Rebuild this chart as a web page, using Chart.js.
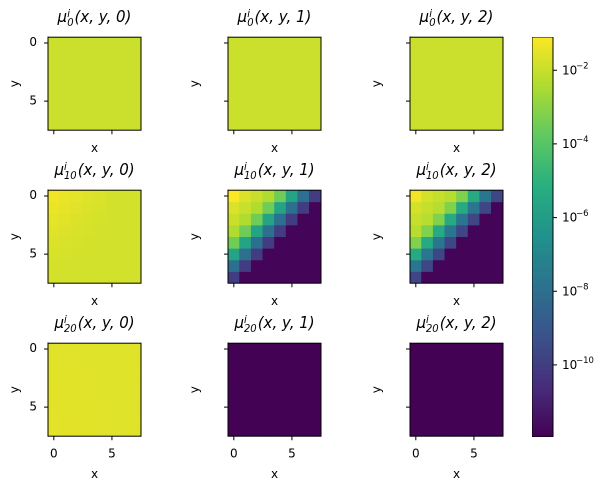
<!DOCTYPE html>
<html><head><meta charset="utf-8">
<script src="https://cdn.jsdelivr.net/npm/chart.js@4"></script>
<style>
body{margin:0;background:#fff;font-family:"DejaVu Sans",sans-serif;}
#root{position:relative;width:610px;height:491px;overflow:hidden;}
.p{position:absolute;}
.p canvas{display:block;}
.t{position:absolute;font-family:"DejaVu Sans",sans-serif;font-style:italic;font-size:15px;text-align:center;width:140px;white-space:nowrap;}
.ss{display:inline-block;vertical-align:middle;line-height:9px;font-size:10px;text-align:left;margin-right:1px;}
</style></head><body><div id="root"></div>
<script>
const cols=[0,1,2,3,4,5,6,7];
const VMIN=1.1e-12, VMAX=0.08;
const mu0=[[0.011,0.011,0.011,0.011,0.011,0.011,0.011,0.011],[0.011,0.011,0.011,0.011,0.011,0.011,0.011,0.011],[0.011,0.011,0.011,0.011,0.011,0.011,0.011,0.011],[0.011,0.011,0.011,0.011,0.011,0.011,0.011,0.011],[0.011,0.011,0.011,0.011,0.011,0.011,0.011,0.011],[0.011,0.011,0.011,0.011,0.011,0.011,0.011,0.011],[0.011,0.011,0.011,0.011,0.011,0.011,0.011,0.011],[0.011,0.011,0.011,0.011,0.011,0.011,0.011,0.011]];
const mu10_0=[[0.05,0.035,0.03,0.024,0.02,0.016,0.015,0.015],[0.04,0.032,0.026,0.021,0.018,0.016,0.015,0.015],[0.032,0.027,0.022,0.019,0.017,0.015,0.015,0.015],[0.026,0.022,0.019,0.017,0.016,0.015,0.015,0.015],[0.021,0.019,0.017,0.016,0.015,0.015,0.015,0.015],[0.018,0.017,0.016,0.015,0.015,0.015,0.015,0.015],[0.016,0.016,0.015,0.015,0.015,0.015,0.015,0.015],[0.016,0.015,0.015,0.015,0.015,0.015,0.015,0.015]];
const mu10_1=[[0.07,0.02,0.01,0.004,3e-4,2e-6,1e-8,1e-10],[0.02,0.01,0.004,3e-4,2e-6,1e-8,1e-10,1.5e-12],[0.01,0.004,3e-4,2e-6,1e-8,1e-10,1.5e-12,1.5e-12],[0.004,3e-4,2e-6,1e-8,1e-10,1.5e-12,1.5e-12,1.5e-12],[3e-4,2e-6,1e-8,1e-10,1.5e-12,1.5e-12,1.5e-12,1.5e-12],[2e-6,1e-8,1e-10,1.5e-12,1.5e-12,1.5e-12,1.5e-12,1.5e-12],[1e-8,1e-10,1.5e-12,1.5e-12,1.5e-12,1.5e-12,1.5e-12,1.5e-12],[1e-10,1.5e-12,1.5e-12,1.5e-12,1.5e-12,1.5e-12,1.5e-12,1.5e-12]];
const mu10_2=[[0.05,0.016,0.009,0.005,6e-4,4e-6,2e-8,2e-10],[0.016,0.009,0.005,6e-4,4e-6,2e-8,2e-10,1.5e-12],[0.009,0.005,6e-4,4e-6,2e-8,2e-10,1.5e-12,1.5e-12],[0.005,6e-4,4e-6,2e-8,2e-10,1.5e-12,1.5e-12,1.5e-12],[6e-4,4e-6,2e-8,2e-10,1.5e-12,1.5e-12,1.5e-12,1.5e-12],[4e-6,2e-8,2e-10,1.5e-12,1.5e-12,1.5e-12,1.5e-12,1.5e-12],[2e-8,2e-10,1.5e-12,1.5e-12,1.5e-12,1.5e-12,1.5e-12,1.5e-12],[2e-10,1.5e-12,1.5e-12,1.5e-12,1.5e-12,1.5e-12,1.5e-12,1.5e-12]];
const mu20_0=[[0.026,0.026,0.026,0.026,0.025,0.025,0.025,0.025],[0.027,0.026,0.026,0.025,0.025,0.025,0.025,0.025],[0.027,0.027,0.026,0.026,0.025,0.025,0.025,0.025],[0.027,0.027,0.026,0.026,0.025,0.025,0.025,0.025],[0.028,0.027,0.027,0.026,0.026,0.025,0.025,0.025],[0.028,0.028,0.027,0.026,0.026,0.025,0.025,0.025],[0.029,0.028,0.027,0.027,0.026,0.026,0.025,0.025],[0.029,0.028,0.028,0.027,0.026,0.026,0.025,0.025]];
const mu20_1=[[1.2e-12,1.2e-12,1.2e-12,1.2e-12,1.2e-12,1.2e-12,1.2e-12,1.2e-12],[1.2e-12,1.2e-12,1.2e-12,1.2e-12,1.2e-12,1.2e-12,1.2e-12,1.2e-12],[1.2e-12,1.2e-12,1.2e-12,1.2e-12,1.2e-12,1.2e-12,1.2e-12,1.2e-12],[1.2e-12,1.2e-12,1.2e-12,1.2e-12,1.2e-12,1.2e-12,1.2e-12,1.2e-12],[1.2e-12,1.2e-12,1.2e-12,1.2e-12,1.2e-12,1.2e-12,1.2e-12,1.2e-12],[1.2e-12,1.2e-12,1.2e-12,1.2e-12,1.2e-12,1.2e-12,1.2e-12,1.2e-12],[1.2e-12,1.2e-12,1.2e-12,1.2e-12,1.2e-12,1.2e-12,1.2e-12,1.2e-12],[1.2e-12,1.2e-12,1.2e-12,1.2e-12,1.2e-12,1.2e-12,1.2e-12,1.2e-12]];
const mu20_2=mu20_1;
const panels=[[mu0,'0','0'],[mu0,'0','1'],[mu0,'0','2'],[mu10_0,'10','0'],[mu10_1,'10','1'],[mu10_2,'10','2'],[mu20_0,'20','0'],[mu20_1,'20','1'],[mu20_2,'20','2']];
const cbTicks=[1e-2,1e-4,1e-6,1e-8,1e-10];
const cbExps=['−2','−4','−6','−8','−10'];

const V=['#440154','#472d7b','#3b528b','#2c728e','#21918c','#28ae80','#5ec962','#addc30','#fde725'].map(h=>[1,3,5].map(i=>parseInt(h.substr(i,2),16)));
function cmap(v){let t=(Math.log10(v)-Math.log10(VMIN))/(Math.log10(VMAX)-Math.log10(VMIN));t=Math.max(0,Math.min(1,t))*8;const i=Math.min(7,Math.floor(t)),f=t-i;const c=V[i].map((a,k)=>Math.round(a+(V[i+1][k]-a)*f));return `rgb(${c})`;}

const root=document.getElementById('root');
const PX=[48,228,410], PY=[37,190,343], S=93;
const font={family:'DejaVu Sans',size:12};
function place(div,ch,L,T,W,H){
  for(let k=0;k<3;k++){
    const a=ch.chartArea;
    const w=ch.width+(W-(a.right-a.left));
    const h=ch.height+(H-(a.bottom-a.top));
    div.style.width=w+'px';div.style.height=h+'px';ch.resize(w,h);
  }
  const a=ch.chartArea;
  div.style.left=(L-a.left)+'px';div.style.top=(T-a.top)+'px';
}
panels.forEach((p,idx)=>{
  const r=Math.floor(idx/3), c=idx%3;
  const xh=r===2?46:26;
  const d=document.createElement('div');d.className='p';
  const cv=document.createElement('canvas');cv.width=40+S+1;cv.height=S+xh+10;d.appendChild(cv);root.appendChild(d);
  const t=document.createElement('div');t.className='t';t.style.left=(PX[c]+S/2-70)+'px';t.style.top=(PY[r]-29)+'px';
  t.innerHTML=`μ<span class="ss">i<br>${p[1]}</span>(x, y, ${p[2]})`;
  root.appendChild(t);
  const datasets=p[0].map((row,ri)=>({data:row.map(()=>[ri-0.5,ri+0.5]),backgroundColor:row.map(cmap),borderWidth:0,grouped:false,barPercentage:1,categoryPercentage:1}));
  const ch=new Chart(cv,{type:'bar',data:{labels:cols,datasets},options:{responsive:false,maintainAspectRatio:false,animation:false,devicePixelRatio:2,
    layout:{padding:{top:0,right:1,left:0,bottom:0}},
    plugins:{legend:{display:false},tooltip:{enabled:false}},
    scales:{
      x:{grid:{display:false,drawTicks:true},border:{color:'#000',width:1},afterFit:s=>{s.height=xh;},
        ticks:{color:'#000',font,autoSkip:false,maxRotation:0,padding:3,callback:(v,i)=>(i===0||i===5)?(r===2?String(i):''):null},
        title:{display:true,text:'x',color:'#000',font,padding:0}},
      y:{reverse:true,min:-0.5,max:7.5,grid:{display:false},border:{color:'#000',width:1},afterFit:s=>{s.width=40;},
        afterBuildTicks:s=>{s.ticks=[{value:0},{value:5}];},
        ticks:{color:'#000',font,padding:3,callback:v=>c===0?String(v):''},
        title:{display:true,text:'y',color:'#000',font,padding:0}}
    }},
    plugins:[{id:'frame',afterDraw(ch){const a=ch.chartArea,g=ch.ctx;g.save();g.strokeStyle='#000';g.lineWidth=1;g.strokeRect(a.left,a.top,a.right-a.left,a.bottom-a.top);
      g.beginPath();[0,5].forEach(v=>{const x=ch.scales.x.getPixelForValue(v);g.moveTo(x,a.bottom);g.lineTo(x,a.bottom+4);const y=ch.scales.y.getPixelForValue(v);g.moveTo(a.left,y);g.lineTo(a.left-4,y);});g.stroke();g.restore();}}]
  });
  place(d,ch,PX[c],PY[r],S,S);
});
const lo=Math.log10(VMIN),hi=Math.log10(VMAX),N=150;
const segs=[],segCols=[];
for(let i=0;i<N;i++){const a=lo+(hi-lo)*i/N,b=lo+(hi-lo)*(i+1)/N;segs.push([Math.pow(10,a),Math.pow(10,b)]);segCols.push(cmap(Math.pow(10,(a+b)/2)));}
const d=document.createElement('div');d.className='p';
const cv=document.createElement('canvas');cv.width=78;cv.height=415;d.appendChild(cv);root.appendChild(d);
const cb=new Chart(cv,{type:'bar',data:{labels:['c'],datasets:segs.map((s,i)=>({data:[s],backgroundColor:segCols[i],borderWidth:0,grouped:false,barPercentage:1,categoryPercentage:1}))},
  options:{responsive:false,maintainAspectRatio:false,animation:false,devicePixelRatio:2,layout:{padding:0},
  plugins:{legend:{display:false},tooltip:{enabled:false}},
  scales:{x:{display:false},
    y:{type:'logarithmic',position:'right',min:VMIN,max:VMAX,grid:{display:false},border:{display:false},afterFit:s=>{s.width=57;},
      afterBuildTicks:s=>{s.ticks=cbTicks.map(v=>({value:v}));},
      ticks:{display:false}}}},
  plugins:[{id:'cbf',afterDraw(ch){const a=ch.chartArea,g=ch.ctx;g.save();g.strokeStyle='#000';g.lineWidth=1;g.strokeRect(a.left,a.top,a.right-a.left,a.bottom-a.top);g.beginPath();
    g.fillStyle='#000';g.textBaseline='middle';
    cbTicks.forEach((v,i)=>{const y=ch.scales.y.getPixelForValue(v);g.moveTo(a.right,y);g.lineTo(a.right+4,y);
      g.font='12px "DejaVu Sans"';g.fillText('10',a.right+9,y+1);g.font='8.5px "DejaVu Sans"';g.fillText(cbExps[i],a.right+23,y-4);});
    g.stroke();g.restore();}}]
});
place(d,cb,532,37,21,400);
</script></body></html>
